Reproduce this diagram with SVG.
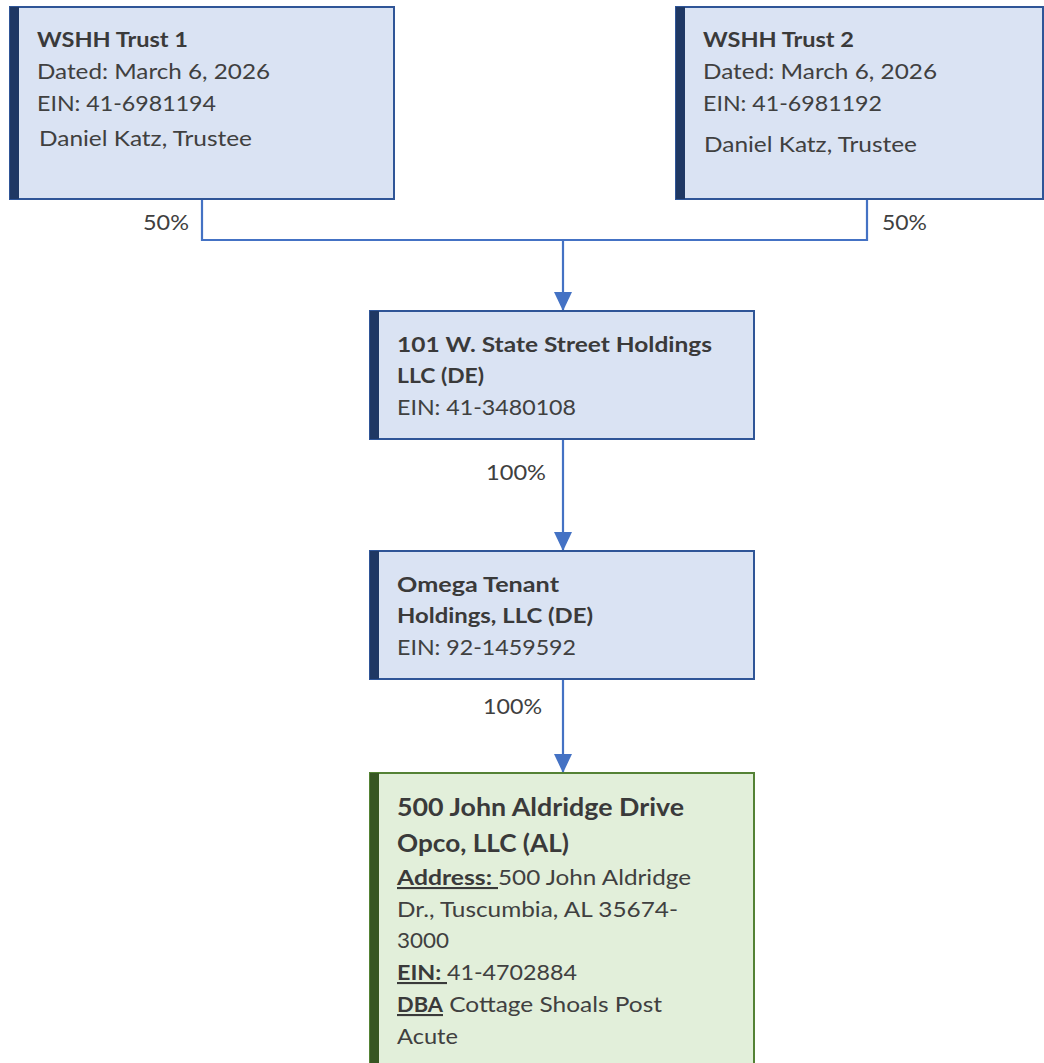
<svg xmlns="http://www.w3.org/2000/svg" width="1044" height="1063" viewBox="0 0 1044 1063">
<style>
.box{fill:#DAE3F3;stroke:#2F5597;stroke-width:2}
.bar{fill:#1F3864}
.gbox{fill:#E2EFDA;stroke:#548235;stroke-width:2}
.gbar{fill:#375623}
text{font-family:Lato,"Open Sans","Liberation Sans",sans-serif;fill:#404040;font-size:21px}
.b{font-weight:bold;fill:#3A3A3A}
.u{text-decoration:underline}
.lbl{font-size:21px}
.conn{fill:none;stroke:#4472C4;stroke-width:2.2}
</style>
<defs>
<marker id="arr" markerWidth="18" markerHeight="19" refX="19" refY="9" orient="auto" markerUnits="userSpaceOnUse">
<path d="M0,0 L19,9 L0,18 Z" fill="#4472C4"/>
</marker>
</defs>
<g id="connectors">
<path class="conn" d="M202,199 V240 H867 V199"/>
<path class="conn" d="M563,240 V311" marker-end="url(#arr)"/>
<path class="conn" d="M563,439 V551" marker-end="url(#arr)"/>
<path class="conn" d="M563,679 V773" marker-end="url(#arr)"/>
<text class="lbl" x="143" y="230" textLength="46" lengthAdjust="spacingAndGlyphs">50%</text>
<text class="lbl" x="882" y="230" textLength="45" lengthAdjust="spacingAndGlyphs">50%</text>
<text class="lbl" x="486" y="480" textLength="60" lengthAdjust="spacingAndGlyphs">100%</text>
<text class="lbl" x="483" y="714" textLength="59" lengthAdjust="spacingAndGlyphs">100%</text>
</g>
<g id="trust1">
<rect class="box" x="10" y="7" width="384" height="192"/>
<rect class="bar" x="10" y="7" width="9" height="192"/>
<text class="b" x="37" y="47" textLength="151" lengthAdjust="spacingAndGlyphs">WSHH Trust 1</text>
<text x="37" y="79" textLength="233" lengthAdjust="spacingAndGlyphs">Dated: March 6, 2026</text>
<text x="37" y="111" textLength="179" lengthAdjust="spacingAndGlyphs">EIN: 41-6981194</text>
<text x="39" y="146" textLength="213" lengthAdjust="spacingAndGlyphs">Daniel Katz, Trustee</text>
</g>
<g id="trust2">
<rect class="box" x="676" y="7" width="367" height="192"/>
<rect class="bar" x="676" y="7" width="9" height="192"/>
<text class="b" x="703" y="47" textLength="151" lengthAdjust="spacingAndGlyphs">WSHH Trust 2</text>
<text x="703" y="79" textLength="234" lengthAdjust="spacingAndGlyphs">Dated: March 6, 2026</text>
<text x="703" y="111" textLength="179" lengthAdjust="spacingAndGlyphs">EIN: 41-6981192</text>
<text x="704" y="152" textLength="213" lengthAdjust="spacingAndGlyphs">Daniel Katz, Trustee</text>
</g>
<g id="holdings101">
<rect class="box" x="370" y="311" width="384" height="128"/>
<rect class="bar" x="370" y="311" width="9" height="128"/>
<text class="b" x="397" y="352" textLength="315" lengthAdjust="spacingAndGlyphs">101 W. State Street Holdings</text>
<text class="b" x="397" y="383" textLength="87" lengthAdjust="spacingAndGlyphs">LLC (DE)</text>
<text x="397" y="415" textLength="179" lengthAdjust="spacingAndGlyphs">EIN: 41-3480108</text>
</g>
<g id="omega">
<rect class="box" x="370" y="551" width="384" height="128"/>
<rect class="bar" x="370" y="551" width="9" height="128"/>
<text class="b" x="397" y="592" textLength="162" lengthAdjust="spacingAndGlyphs">Omega Tenant</text>
<text class="b" x="397" y="623" textLength="196" lengthAdjust="spacingAndGlyphs">Holdings, LLC (DE)</text>
<text x="397" y="655" textLength="179" lengthAdjust="spacingAndGlyphs">EIN: 92-1459592</text>
</g>
<g id="opco">
<rect class="gbox" x="370" y="773" width="384" height="300"/>
<rect class="gbar" x="370" y="773" width="9" height="300"/>
<text class="b" x="397" y="816" style="font-size:25px" textLength="287" lengthAdjust="spacingAndGlyphs">500 John Aldridge Drive</text>
<text class="b" x="397" y="852" style="font-size:25px" textLength="172" lengthAdjust="spacingAndGlyphs">Opco, LLC (AL)</text>
<text x="397" y="885"><tspan class="b u" textLength="101" lengthAdjust="spacingAndGlyphs">Address: </tspan><tspan x="498" textLength="193" lengthAdjust="spacingAndGlyphs">500 John Aldridge</tspan></text>
<text x="397" y="917" textLength="281" lengthAdjust="spacingAndGlyphs">Dr., Tuscumbia, AL 35674-</text>
<text x="397" y="948" textLength="52" lengthAdjust="spacingAndGlyphs">3000</text>
<text x="397" y="980"><tspan class="b u" textLength="50" lengthAdjust="spacingAndGlyphs">EIN: </tspan><tspan x="447" textLength="130" lengthAdjust="spacingAndGlyphs">41-4702884</tspan></text>
<text x="397" y="1012"><tspan class="b u" textLength="46" lengthAdjust="spacingAndGlyphs">DBA</tspan><tspan x="443" textLength="219" lengthAdjust="spacingAndGlyphs"> Cottage Shoals Post</tspan></text>
<text x="397" y="1044" textLength="61" lengthAdjust="spacingAndGlyphs">Acute</text>
</g>
</svg>
